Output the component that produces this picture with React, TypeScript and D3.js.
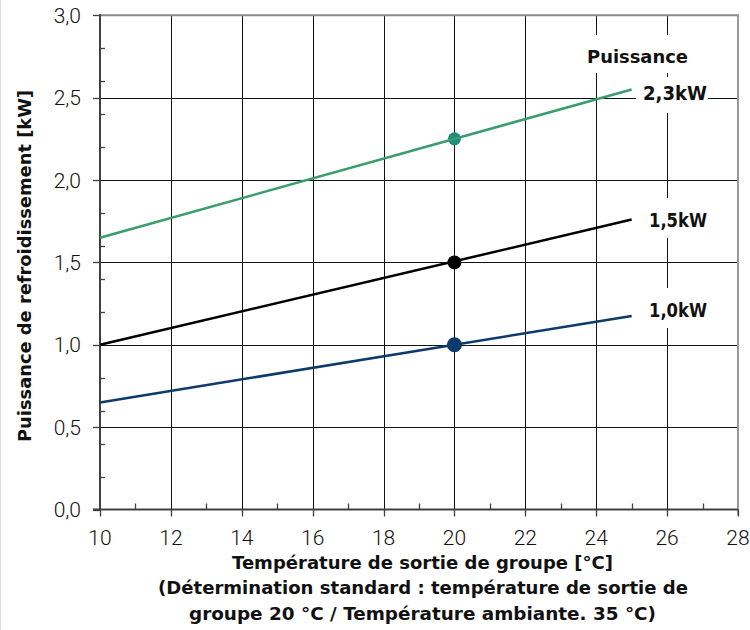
import React from "react";
import * as d3 from "d3";

// ---- data ----
const xTicks = [10, 12, 14, 16, 18, 20, 22, 24, 26, 28];
const xMinor = [11, 13, 15, 17, 19, 21, 23, 25, 27];
const yTicks = [0, 0.5, 1.0, 1.5, 2.0, 2.5, 3.0];
const yTickLabels = ["0,0", "0,5", "1,0", "1,5", "2,0", "2,5", "3,0"];
const yMinor = [0.2, 0.4, 0.6, 0.8, 1.2, 1.4, 1.6, 1.8, 2.2, 2.4, 2.6, 2.8];
const temps = [10, 25];
const series23 = [1.65, 2.55];
const series15 = [1.0, 1.76];
const series10 = [0.65, 1.175];
const refTemp = 20;
const refValues = [2.25, 1.5, 1.0];
const seriesLabels = ["2,3kW", "1,5kW", "1,0kW"];
const legendTitle = "Puissance";
const yTitle = "Puissance de refroidissement [kW]";
const xTitleLines = [
  "Température de sortie de groupe [°C]",
  "(Détermination standard : température de sortie de",
  "groupe 20 °C / Température ambiante. 35 °C)",
];

const GREEN = "#3a9d6d";
const GREEN_DOT = "#1f8c7e";
const BLUE = "#0b3a6b";
const BLACK = "#000000";

export default function App() {
  const x = d3.scaleLinear().domain([10, 28]).range([100, 738]);
  const y = d3.scaleLinear().domain([0, 3]).range([509.5, 15.3]);
  const line = d3
    .line<number>()
    .x((_, i) => x(temps[i]))
    .y((d) => y(d));

  const px = (v: number) => Math.round(v) + 0.5;
  const boldFont = "'DejaVu Sans', sans-serif";
  const tickFont = "Roboto, sans-serif";

  const seriesDefs = [
    { vals: series23, color: GREEN, dot: GREEN_DOT, r: 6.5, lineOnTop: true },
    { vals: series15, color: BLACK, dot: BLACK, r: 7, lineOnTop: false },
    { vals: series10, color: BLUE, dot: BLUE, r: 7.5, lineOnTop: false },
  ];

  // label boxes (layout)
  const labelBoxes = [
    { x: 636, y: 77, w: 72, h: 36, tx: 643, ty: 100, tl: 64 },
    { x: 640, y: 198, w: 70, h: 40, tx: 649, ty: 227, tl: 58 },
    { x: 640, y: 288, w: 70, h: 40, tx: 649, ty: 317, tl: 58 },
  ];

  return (
    <div>
      <style>{"body{margin:0}"}</style>
      <svg width={750} height={630} style={{ display: "block", background: "#fff" }}>
        <line x1={0.5} x2={0.5} y1={0} y2={630} stroke="#dddddd" />
        {/* vertical grid */}
        {xTicks.slice(1, -1).map((t) => (
          <line key={"vg" + t} x1={px(x(t))} x2={px(x(t))} y1={y(3)} y2={y(0)} stroke="#111" strokeWidth={1} />
        ))}
        {/* horizontal grid */}
        {yTicks.slice(1, -1).map((t) => (
          <line key={"hg" + t} x1={x(10)} x2={x(28)} y1={px(y(t))} y2={px(y(t))} stroke="#111" strokeWidth={1} />
        ))}
        {/* top and right border */}
        <line x1={x(10)} x2={x(28)} y1={y(3)} y2={y(3)} stroke="#8a8a8a" strokeWidth={2} />
        <line x1={x(28)} x2={x(28)} y1={y(3) - 1} y2={y(0) + 6} stroke="#9a9a9a" strokeWidth={2} />

        {/* label backgrounds */}
        <rect x={580} y={35} width={115} height={38} fill="#fff" />
        {labelBoxes.map((b, i) => (
          <rect key={"lb" + i} x={b.x} y={b.y} width={b.w} height={b.h} fill="#fff" />
        ))}

        {/* axes */}
        <line x1={x(10)} x2={x(10)} y1={y(3) - 1} y2={y(0) + 1} stroke="#404040" strokeWidth={2} />
        <line x1={x(10) - 7} x2={x(28)} y1={y(0)} y2={y(0)} stroke="#404040" strokeWidth={2} />
        {yTicks.map((t) => (
          <line key={"yt" + t} x1={x(10) - 7} x2={x(10)} y1={px(y(t))} y2={px(y(t))} stroke="#404040" strokeWidth={1.3} />
        ))}
        {yMinor.map((t) => (
          <line key={"ym" + t} x1={x(10)} x2={x(10) + 5} y1={px(y(t))} y2={px(y(t))} stroke="#404040" strokeWidth={1.3} />
        ))}
        {xTicks.map((t) => (
          <line key={"xt" + t} x1={px(x(t))} x2={px(x(t))} y1={y(0)} y2={y(0) + 7} stroke="#404040" strokeWidth={1.3} />
        ))}
        {xMinor.map((t) => (
          <line key={"xm" + t} x1={px(x(t))} x2={px(x(t))} y1={y(0) - 6} y2={y(0)} stroke="#404040" strokeWidth={1.3} />
        ))}

        {/* tick labels */}
        {yTicks.map((t, i) => (
          <text key={"yl" + t} x={81} y={y(t)} dy="0.36em" textAnchor="end" fontFamily={tickFont} fontWeight={300} fontSize={21} fill="#111">
            {yTickLabels[i]}
          </text>
        ))}
        {xTicks.map((t) => (
          <text key={"xl" + t} x={x(t)} y={545} textAnchor="middle" fontFamily={tickFont} fontWeight={300} fontSize={21} fill="#111">
            {String(t)}
          </text>
        ))}

        {/* series */}
        {seriesDefs.map((s, i) => {
          const path = (
            <path key={"p" + i} d={line(s.vals) || ""} fill="none" stroke={s.color} strokeWidth={2.5} />
          );
          const dot = (
            <circle key={"c" + i} cx={x(refTemp)} cy={y(refValues[i])} r={s.r} fill={s.dot} />
          );
          return (
            <g key={"s" + i}>
              {s.lineOnTop ? [dot, path] : [path, dot]}
            </g>
          );
        })}

        {/* legend labels */}
        <text x={587} y={63} fontFamily={boldFont} fontWeight="bold" fontSize={18} textLength={101} lengthAdjust="spacingAndGlyphs" fill="#111">
          {legendTitle}
        </text>
        {labelBoxes.map((b, i) => (
          <text key={"lt" + i} x={b.tx} y={b.ty} fontFamily={boldFont} fontWeight="bold" fontSize={19} textLength={b.tl} lengthAdjust="spacingAndGlyphs" fill="#111">
            {seriesLabels[i]}
          </text>
        ))}

        {/* axis titles */}
        <text
          transform="translate(31,266) rotate(-90)"
          textAnchor="middle"
          fontFamily={boldFont}
          fontWeight="bold"
          fontSize={17}
          textLength={352}
          lengthAdjust="spacingAndGlyphs"
          fill="#111"
        >
          {yTitle}
        </text>
        {xTitleLines.map((s, i) => (
          <text
            key={"xt" + i}
            x={[232, 158, 189][i]}
            y={[569, 594, 620][i]}
            fontFamily={boldFont}
            fontWeight="bold"
            fontSize={17.5}
            textLength={[381, 530, 467][i]}
            lengthAdjust="spacingAndGlyphs"
            fill="#111"
          >
            {s}
          </text>
        ))}
      </svg>
    </div>
  );
}
